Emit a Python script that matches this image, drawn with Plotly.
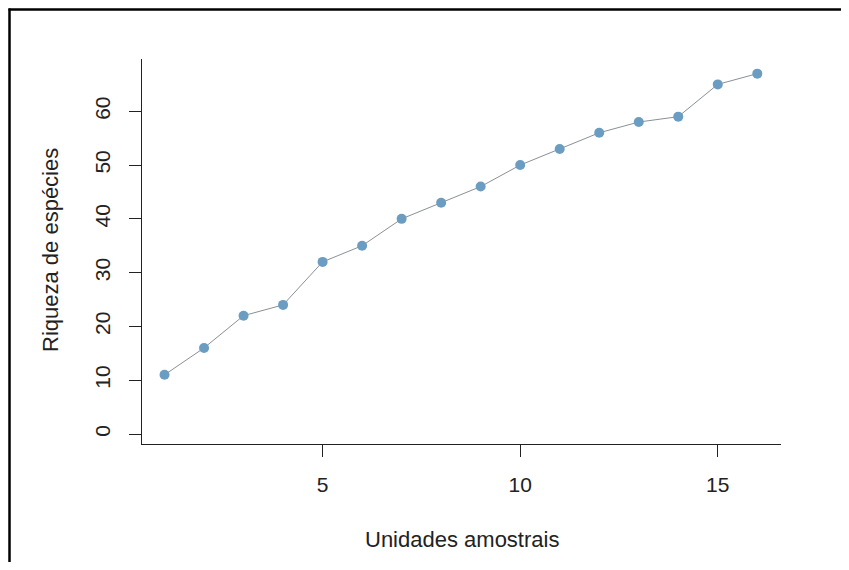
import plotly.graph_objects as go

units = list(range(1, 17))
richness = [11, 16, 22, 24, 32, 35, 40, 43, 46, 50, 53, 56, 58, 59, 65, 67]
x_ticks = [5, 10, 15]
y_ticks = [0, 10, 20, 30, 40, 50, 60]
x_title = "Unidades amostrais"
y_title = "Riqueza de espécies"

FONT = "Liberation Sans, Arial, sans-serif"

fig = go.Figure()
fig.add_trace(go.Scatter(
    x=units, y=richness, mode="lines+markers",
    line=dict(color="#8a9097", width=1),
    marker=dict(color="#6b9dc2", size=10),
    showlegend=False, hoverinfo="skip",
))

# the page body has a default 8px margin: keep the figure inside the
# 849x570 window (no scrollbars) and compensate the offset
OFF = 8
VW, VH = 849, 570
W, H = VW - 2 * OFF, VH - 2 * OFF
# plot area in window pixels: x 142..781, y 59..444
L = 142 - OFF
T = 59 - OFF
R = W - (781 - OFF)
B = H - (444 - OFF)
pw, ph = W - L - R, H - T - B

def px_to_paper_x(px):
    return (px - OFF - L) / pw

def px_to_paper_y(py):
    return (H - B - (py - OFF)) / ph

frame = dict(color="black", width=2.5)

fig.update_layout(
    width=W, height=H,
    margin=dict(l=L, r=R, t=T, b=B, pad=0),
    paper_bgcolor="white", plot_bgcolor="white",
    font=dict(family=FONT, size=21, color="#222222"),
    xaxis=dict(
        range=[0.43, 16.6], tickmode="array", tickvals=x_ticks,
        showgrid=False, zeroline=False, showline=True,
        linecolor="#222222", linewidth=1.3,
        ticks="outside", ticklen=12, tickwidth=1.3, tickcolor="#222222",
        ticklabelstandoff=10,
        tickfont=dict(size=21, family=FONT, color="#222222"),
    ),
    yaxis=dict(
        range=[-1.86, 69.72], tickmode="array", tickvals=y_ticks,
        showgrid=False, zeroline=False, showline=True,
        linecolor="#222222", linewidth=1.3,
        ticks="outside", ticklen=12, tickwidth=1.3, tickcolor="#222222",
        tickangle=-90, ticklabelstandoff=10,
        tickfont=dict(size=21, family=FONT, color="#222222"),
    ),
    annotations=[
        dict(text=x_title, xref="paper", yref="paper",
             x=0.5, y=px_to_paper_y(539), xanchor="center", yanchor="middle",
             showarrow=False, font=dict(size=22, family=FONT, color="#222222")),
        dict(text=y_title, xref="paper", yref="paper", textangle=-90,
             x=px_to_paper_x(50), y=px_to_paper_y(250), xanchor="center", yanchor="middle",
             showarrow=False, font=dict(size=22, family=FONT, color="#222222")),
    ],
    shapes=[
        dict(type="line", xref="paper", yref="paper",
             x0=px_to_paper_x(8.5), x1=px_to_paper_x(OFF + W),
             y0=px_to_paper_y(9.5), y1=px_to_paper_y(9.5),
             line=frame, layer="above"),
        dict(type="line", xref="paper", yref="paper",
             x0=px_to_paper_x(9.5), x1=px_to_paper_x(9.5),
             y0=px_to_paper_y(8.5), y1=px_to_paper_y(OFF + H),
             line=frame, layer="above"),
    ],
)

fig.write_html("out.html")
